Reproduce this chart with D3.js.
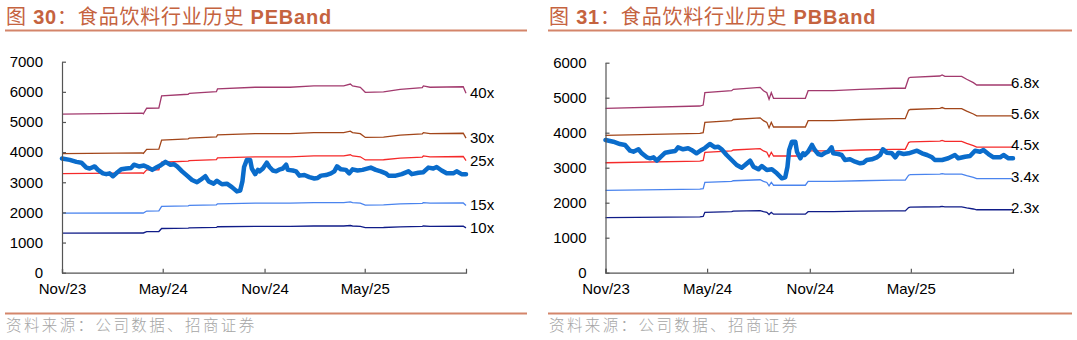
<!DOCTYPE html>
<html><head><meta charset="utf-8">
<script src="https://cdn.jsdelivr.net/npm/d3@7"></script>
<style>
html,body{margin:0;padding:0;background:#fff;}
svg{display:block;}
</style></head><body>
<svg id="chart" width="1077" height="340"></svg>
<script>
// ---------- data ----------
const indexDates = ["2023-11-01","2023-11-15","2023-11-27","2023-12-06","2023-12-15","2023-12-21","2023-12-30","2024-01-05","2024-01-14","2024-01-20","2024-01-26","2024-02-01","2024-02-07","2024-02-16","2024-02-25","2024-03-05","2024-03-10","2024-03-19","2024-03-28","2024-04-03","2024-04-12","2024-04-21","2024-04-27","2024-05-06","2024-05-15","2024-05-21","2024-05-27","2024-06-05","2024-06-14","2024-06-23","2024-07-02","2024-07-08","2024-07-17","2024-07-23","2024-08-01","2024-08-07","2024-08-16","2024-08-25","2024-09-03","2024-09-12","2024-09-18","2024-09-22","2024-09-25","2024-09-30","2024-10-06","2024-10-09","2024-10-15","2024-10-20","2024-10-23","2024-10-29","2024-11-05","2024-11-10","2024-11-16","2024-11-22","2024-11-29","2024-12-04","2024-12-10","2024-12-13","2024-12-22","2024-12-28","2025-01-03","2025-01-12","2025-01-21","2025-01-30","2025-02-05","2025-02-11","2025-02-20","2025-03-01","2025-03-07","2025-03-12","2025-03-19","2025-03-28","2025-04-03","2025-04-09","2025-04-18","2025-04-27","2025-05-12","2025-05-21","2025-05-30","2025-06-08","2025-06-13","2025-06-26","2025-07-07","2025-07-19","2025-07-25","2025-08-06","2025-08-15","2025-08-24","2025-09-02","2025-09-08","2025-09-17","2025-09-26","2025-10-08","2025-10-14","2025-10-23","2025-10-31"];
const indexValues = [3790,3743,3677,3649,3486,3457,3526,3411,3297,3269,3297,3200,3297,3429,3457,3477,3583,3526,3554,3506,3411,3506,3560,3677,3583,3600,3526,3363,3220,3077,3000,3077,3200,3029,2954,3049,2934,2954,2840,2697,2726,3029,3506,3743,3743,3457,3269,3411,3363,3457,3649,3506,3391,3363,3429,3457,3583,3411,3391,3363,3220,3240,3171,3126,3143,3220,3240,3297,3363,3526,3429,3411,3297,3429,3391,3411,3486,3411,3363,3297,3220,3220,3269,3363,3269,3314,3334,3486,3457,3506,3391,3297,3297,3363,3269,3270];

// 1x PE base (EPS-equivalent)
const peBaseDates = ["2023-11-01","2024-03-25","2024-03-27","2024-04-02","2024-04-24","2024-04-29","2024-06-16","2024-06-18","2024-08-06","2024-08-08","2024-10-15","2024-12-17","2025-01-29","2025-03-24","2025-04-05","2025-04-09","2025-04-23","2025-05-02","2025-06-04","2025-07-04","2025-08-13","2025-08-15","2025-08-27","2025-10-26","2025-10-31"];
const peBaseValues = [131.6,132.4,131.8,136.4,136.6,146.6,148.0,148.8,150.1,152.4,153.8,153.8,154.9,154.9,156.5,154.9,153.8,149.6,149.9,152.1,153.5,154.9,153.8,154.2,148.8];

// 1x PB base (BPS-equivalent)
const pbBaseDates = ["2023-11-01","2024-04-18","2024-04-24","2024-04-27","2024-06-14","2024-06-17","2024-08-04","2024-08-10","2024-08-16","2024-08-20","2024-08-24","2024-08-28","2024-10-24","2024-10-29","2024-12-13","2025-01-30","2025-03-31","2025-04-21","2025-04-27","2025-04-30","2025-06-22","2025-06-26","2025-07-01","2025-07-31","2025-08-09","2025-08-21","2025-08-27","2025-10-31"];
const pbBaseValues = [690.5,700.4,704.6,756.3,764.7,770.6,779.0,764.7,756.3,728.5,756.3,732.8,732.8,764.7,764.7,770.6,774.9,774.9,816.8,821.0,826.5,830.7,825.1,825.1,812.6,798.4,788.7,788.7];

const peMultiples = [40, 30, 25, 15, 10];
const peBandLabels = ["40x", "30x", "25x", "15x", "10x"];
const pbMultiples = [6.8, 5.68, 4.55, 3.41, 2.28];
const pbBandLabels = ["6.8x", "5.6x", "4.5x", "3.4x", "2.3x"];

const xTickDates = ["2023-11-01","2024-05-01","2024-11-01","2025-05-01"];
const xTickLabels = ["Nov/23","May/24","Nov/24","May/25"];
const peYTicks = [0,1000,2000,3000,4000,5000,6000,7000];
const pbYTicks = [0,1000,2000,3000,4000,5000,6000];

const titles = [["图 ", "30", "：食品饮料行业历史 ", "PEBand"], ["图 ", "31", "：食品饮料行业历史 ", "PBBand"]];
const sourceText = "资料来源：公司数据、招商证券";

// ---------- style ----------
const bandColors = ["#A23A6E", "#A2461A", "#F52A2A", "#4A84EE", "#101C88"];
const indexColor = "#0A6CCB";
const titleColor = "#C5633F";
const ruleColor = "#D4856A";
const axisColor = "#555";
const FONT = "'Liberation Sans', Arial, 'Noto Sans CJK SC', sans-serif";

const parse = d3.timeParse("%Y-%m-%d");
const svg = d3.select("#chart");

const panels = [
  { left: 5, right: 527, titleX: 6, x0: 62, x1: 466, yTop: 61.7, yBottom: 272.7,
    yMax: 7000, yTicks: peYTicks, baseDates: peBaseDates, baseValues: peBaseValues,
    multiples: peMultiples, labels: peBandLabels, labelDx: 4, labelDy: 1, title: titles[0] },
  { left: 548, right: 1072, titleX: 549, x0: 605.5, x1: 1013, yTop: 62.7, yBottom: 272.7,
    yMax: 6000, yTicks: pbYTicks, baseDates: pbBaseDates, baseValues: pbBaseValues,
    multiples: pbMultiples, labels: pbBandLabels, labelDx: -2, labelDy: -1, title: titles[1] }
];

const indexData = indexDates.map((d, i) => ({ date: parse(d), value: indexValues[i] }));

panels.forEach(p => {
  const g = svg.append("g");

  // title
  const t = g.append("text").attr("x", p.titleX).attr("y", 24)
    .attr("font-family", FONT).attr("font-size", 20).attr("letter-spacing", 0.8).attr("fill", titleColor);
  p.title.forEach((s, i) => {
    t.append("tspan").text(s).attr("font-weight", (i % 2 === 1) ? "bold" : "normal");
  });
  g.append("line").attr("x1", p.left).attr("x2", p.right).attr("y1", 30.5).attr("y2", 30.5)
    .attr("stroke", ruleColor).attr("stroke-width", 2);
  g.append("line").attr("x1", p.left).attr("x2", p.right).attr("y1", 313.5).attr("y2", 313.5)
    .attr("stroke", ruleColor).attr("stroke-width", 2);
  g.append("text").attr("x", p.left + 1).attr("y", 331).text(sourceText)
    .attr("font-family", "'Noto Sans CJK SC', sans-serif").attr("font-size", 15.5)
    .attr("letter-spacing", 2.4).attr("fill", "#A6A6A6").attr("font-weight", 300);

  const x = d3.scaleTime().domain([parse("2023-11-01"), parse("2025-10-31")]).range([p.x0, p.x1]);
  const y = d3.scaleLinear().domain([0, p.yMax]).range([p.yBottom, p.yTop]);

  // bands
  const base = p.baseDates.map((d, i) => ({ date: parse(d), value: p.baseValues[i] }));
  const line = d3.line().x(d => x(d.date)).y(d => y(d.value));
  p.multiples.forEach((m, i) => {
    const series = base.map(d => ({ date: d.date, value: d.value * m }));
    g.append("path").datum(series).attr("d", line)
      .attr("fill", "none").attr("stroke", bandColors[i]).attr("stroke-width", 1.3);
    const last = series[series.length - 1];
    g.append("text").attr("x", x(last.date) + p.labelDx).attr("y", y(last.value) + p.labelDy)
      .attr("dominant-baseline", "middle").attr("font-family", FONT).attr("font-size", 15)
      .attr("fill", "#000").text(p.labels[i]);
  });

  // index
  g.append("path").datum(indexData).attr("d", line)
    .attr("fill", "none").attr("stroke", indexColor).attr("stroke-width", 4.5)
    .attr("stroke-linejoin", "round").attr("stroke-linecap", "round");

  // axes
  const yAxis = d3.axisLeft(y).tickValues(p.yTicks).tickFormat(d3.format("d"))
    .tickSizeInner(-4).tickSizeOuter(0).tickPadding(19);
  const ya = g.append("g").attr("transform", `translate(${p.x0},0)`).call(yAxis);
  const xAxis = d3.axisBottom(x).tickValues(xTickDates.map(parse))
    .tickFormat((d, i) => xTickLabels[i]).tickSizeInner(-4).tickSizeOuter(-4).tickPadding(11);
  const xa = g.append("g").attr("transform", `translate(0,${p.yBottom})`).call(xAxis);
  [ya, xa].forEach(a => {
    a.select(".domain").attr("stroke", axisColor).attr("stroke-width", 1.2);
    a.selectAll(".tick line").attr("stroke", axisColor).attr("stroke-width", 1.2);
    a.selectAll(".tick text").attr("font-family", FONT).attr("font-size", 15).attr("fill", "#000");
  });
});
</script>
</body></html>
